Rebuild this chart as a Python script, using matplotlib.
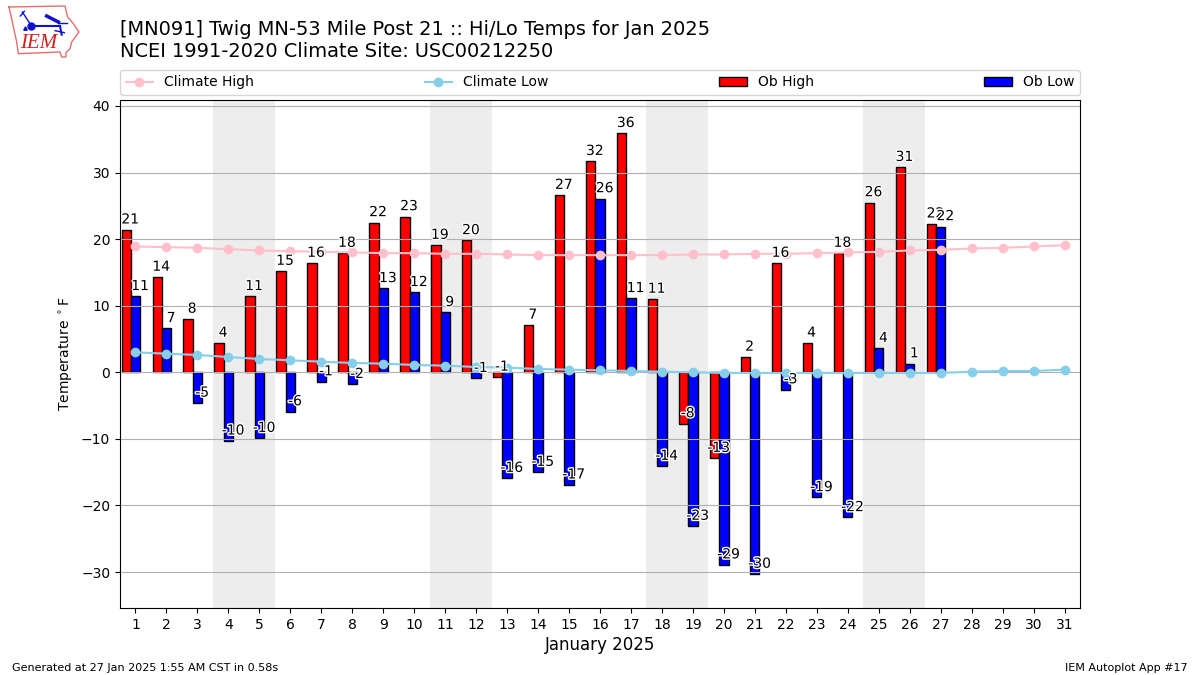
import matplotlib

matplotlib.use("Agg")
import matplotlib.patheffects as PathEffects
import matplotlib.pyplot as plt
import numpy as np

days = np.arange(1, 32)
ob_days = np.arange(1, 28)
ob_high = [21.4, 14.3, 8.0, 4.4, 11.4, 15.2, 16.4, 17.9, 22.5, 23.4, 19.1, 19.8, -0.7,
           7.1, 26.6, 31.7, 35.9, 11.0, -7.7, -12.9, 2.3, 16.4, 4.4, 17.9, 25.5, 30.8, 22.3]
ob_low = [11.4, 6.6, -4.6, -10.3, -9.9, -5.9, -1.4, -1.8, 12.6, 12.0, 9.0, -0.9, -15.9,
          -15.0, -16.9, 26.1, 11.1, -14.1, -23.1, -28.9, -30.3, -2.6, -18.8, -21.8, 3.6, 1.3, 21.9]
climate_high = [18.9, 18.8, 18.7, 18.5, 18.3, 18.2, 18.1, 18.0, 17.9, 17.9, 17.8, 17.8, 17.7,
                17.6, 17.6, 17.6, 17.6, 17.6, 17.7, 17.7, 17.8, 17.8, 17.9, 18.0, 18.1, 18.3,
                18.4, 18.6, 18.7, 18.9, 19.1]
climate_low = [3.0, 2.8, 2.6, 2.3, 2.0, 1.8, 1.6, 1.4, 1.3, 1.1, 1.0, 0.8, 0.7, 0.5, 0.4, 0.3,
               0.2, 0.1, 0.0, -0.1, -0.1, -0.1, -0.1, -0.1, -0.1, -0.1, -0.1, 0.1, 0.2, 0.2, 0.4]
weekend_spans = [(3.5, 5.5), (10.5, 12.5), (17.5, 19.5), (24.5, 26.5)]

# logo drawing, in a small 240x180 box
logo_x = [12, 180, 188, 205, 222, 200, 195, 183, 183, 170, 165, 40, 35, 22, 12]
logo_y = [15, 12, 45, 65, 90, 120, 140, 152, 165, 165, 150, 155, 120, 60, 15]

fig = plt.figure(figsize=(12, 6.75), dpi=100)
ax = fig.add_axes([120 / 1200, 1 - 608 / 675, 960 / 1200, 508 / 675])

for start, end in weekend_spans:
    ax.axvspan(start, end, color="#EDEDED", zorder=0, lw=0)

ax.plot(days, climate_high, color="pink", marker="o", label="Climate High")
ax.plot(days, climate_low, color="skyblue", marker="o", label="Climate Low")
ax.bar(ob_days - 0.3, ob_high, width=0.3, color="r", edgecolor="k", label="Ob High")
ax.bar(ob_days, ob_low, width=0.3, color="b", edgecolor="k", label="Ob Low")

stroke = [PathEffects.withStroke(linewidth=2, foreground="white")]
for day, val in zip(ob_days, ob_high):
    ax.text(day - 0.17, val + 0.5, f"{val:.0f}", ha="center", va="bottom", path_effects=stroke)
for day, val in zip(ob_days, ob_low):
    ax.text(day + 0.15, val + 0.5, f"{val:.0f}", ha="center", va="bottom", path_effects=stroke)

ax.set_xlim(0.5, 31.5)
ax.set_ylim(-35.4, 40.9)
ax.set_xticks(days)
ax.set_yticks(np.arange(-30, 41, 10))
ax.grid(True, axis="y")
ax.set_xlabel("January 2025", fontsize=12, labelpad=3)
ax.set_ylabel(r"Temperature $^\circ$F")
ax.legend(
    loc="lower left",
    bbox_to_anchor=(0, 1.0098, 1, 0.05),
    ncol=4,
    mode="expand",
    borderaxespad=0,
)

fig.text(
    120 / 1200,
    1 - 61 / 675,
    "[MN091] Twig MN-53 Mile Post 21 :: Hi/Lo Temps for Jan 2025\n"
    "NCEI 1991-2020 Climate Site: USC00212250",
    fontsize=13.98,
    ha="left",
    va="bottom",
)
fig.text(12 / 1200, 1 - 671 / 675, "Generated at 27 Jan 2025 1:55 AM CST in 0.58s", fontsize=8)
fig.text(1188 / 1200, 1 - 671 / 675, "IEM Autoplot App #17", fontsize=8, ha="right")

logo = fig.add_axes([5 / 1200, 1 - 62 / 675, 80 / 1200, 60 / 675])
logo.axis("off")
logo.set_xlim(0, 240)
logo.set_ylim(180, 0)
logo.plot(logo_x, logo_y, color="#e07070", lw=1)
logo.text(100, 126, "IEM", color="#d02020", family="Liberation Serif", style="italic",
          fontsize=15, ha="center", va="center")
logo.plot([75, 165], [72, 72], color="#1010d0", lw=1.5)
logo.plot([78], [72], color="#1010d0", marker="o", ms=5)
logo.plot([125, 160], [42, 60], color="#1010d0", lw=2.5)
logo.plot([160, 185], [62, 62], color="#1010d0", lw=1)
logo.plot([52, 75], [30, 65], color="#1010d0", lw=1)
logo.plot([46, 58], [42, 28], color="#1010d0", lw=1)
logo.plot([60], [78], color="#1010d0", marker="^", ms=2.5)
logo.plot([165, 170], [72, 98], color="#1010d0", lw=1.5)
logo.plot([150, 178], [86, 92], color="#1010d0", lw=1)

fig.savefig("out.png", dpi=100)
